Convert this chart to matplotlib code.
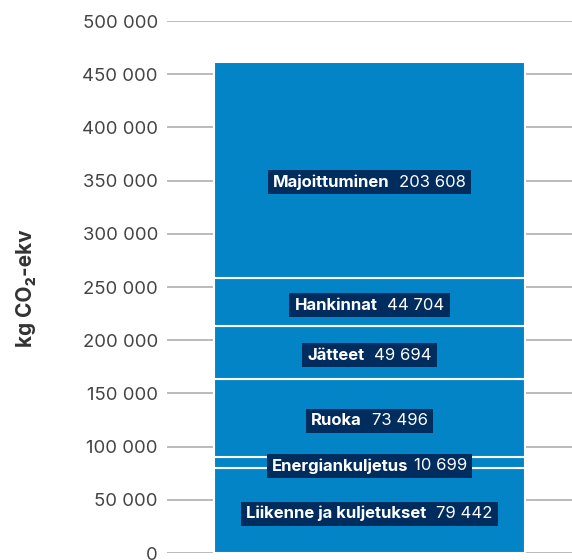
import matplotlib
matplotlib.use("Agg")
import matplotlib.pyplot as plt

plt.rcParams['font.family'] = ['Inter', 'DejaVu Sans']

# Paastot luokittain (alhaalta ylos)
luokat = ['Liikenne ja kuljetukset', 'Energiankuljetus', 'Ruoka',
          'Jätteet', 'Hankinnat', 'Majoittuminen']
arvot = [79442, 10699, 73496, 49694, 44704, 203608]
arvo_tekstit = ['79 442', '10 699', '73 496', '49 694', '44 704', '203 608']
y_ticks = [0, 50000, 100000, 150000, 200000, 250000, 300000, 350000, 400000, 450000, 500000]
y_tick_labels = ['0', '50 000', '100 000', '150 000', '200 000', '250 000',
                 '300 000', '350 000', '400 000', '450 000', '500 000']

bar_col = '#0284c7'
box_col = '#002c5e'

fig = plt.figure(figsize=(5.72, 5.6), dpi=100)
ax = fig.add_axes([167/572, 7/560, 405/572, 532/560])

ax.set_ylim(0, 500000)
ax.set_xlim(-0.5, 0.5)
ax.set_yticks(y_ticks)
ax.set_yticklabels(y_tick_labels)
ax.set_xticks([])
ax.tick_params(axis='y', length=0, pad=6.5, labelsize=13.3, labelcolor='#444444')
for s in ax.spines.values():
    s.set_visible(False)
ax.grid(axis='y', color='#bbbbbb', linewidth=1.4)
ax.set_axisbelow(True)

pohja = 0
keskit = []
for v in arvot:
    ax.bar(0, v, bottom=pohja, width=0.77, color=bar_col, edgecolor='white', linewidth=1.5)
    keskit.append(pohja + v / 2)
    pohja += v

fig.canvas.draw()
r = fig.canvas.get_renderer()
inv = ax.transData.inverted()
for i, (nimi, teksti, yc) in enumerate(zip(luokat, arvo_tekstit, keskit)):
    gap = 5 if nimi == 'Energiankuljetus' else 10
    dy = -12 if i == len(luokat) - 1 else -3   # siirto pikseleina
    t1 = ax.text(0, yc, nimi, color='white', fontsize=12, fontweight='bold',
                 ha='left', va='center', zorder=5)
    t2 = ax.text(0, yc, teksti, color='white', fontsize=12,
                 ha='left', va='center', zorder=5)
    e1 = t1.get_window_extent(r)
    e2 = t2.get_window_extent(r)
    w = e1.width + gap + e2.width
    x0_px, y_px = ax.transData.transform((0, yc))
    x0_px -= w / 2
    y_px += dy
    t1.set_position(inv.transform((x0_px, y_px)))
    t2.set_position(inv.transform((x0_px + e1.width + gap, y_px)))
    # tausta laatikko
    bx0, by0 = inv.transform((x0_px - 5, y_px - 12))
    bx1, by1 = inv.transform((x0_px + w + 5, y_px + 12))
    ax.add_patch(plt.Rectangle((bx0, by0), bx1 - bx0, by1 - by0,
                               facecolor=box_col, edgecolor='none', zorder=4))

fig.text(26/572, 0.486, 'kg CO₂-ekv', rotation=90, fontsize=15, fontweight='bold',
         color='#333333', ha='center', va='center')

fig.savefig('out.png', dpi=100)
